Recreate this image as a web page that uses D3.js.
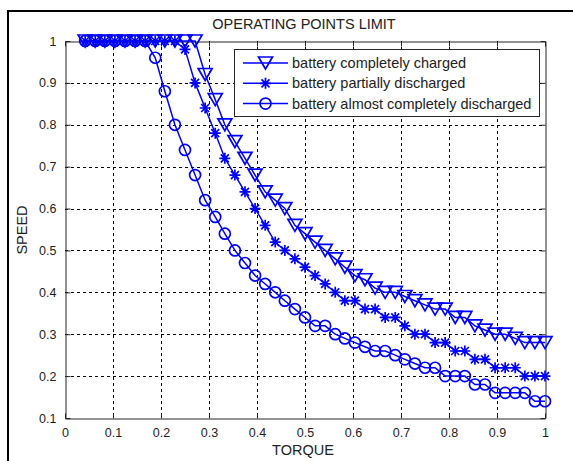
<!DOCTYPE html>
<html>
<head>
<meta charset="utf-8">
<script src="https://cdn.jsdelivr.net/npm/d3@7/dist/d3.min.js"></script>
<style>
  html, body { margin: 0; padding: 0; background: #fff; }
  svg { display: block; font-family: "Liberation Sans", Arial, sans-serif; }
</style>
</head>
<body>
<svg id="chart" width="573" height="461"></svg>
<script>
// Torque sample points (normalised)
const torque = [0.042, 0.063, 0.083, 0.104, 0.125, 0.146, 0.167, 0.188, 0.208, 0.229,
  0.25, 0.271, 0.292, 0.313, 0.333, 0.354, 0.375, 0.396, 0.417, 0.438,
  0.458, 0.479, 0.5, 0.521, 0.542, 0.563, 0.583, 0.604, 0.625, 0.646,
  0.667, 0.688, 0.708, 0.729, 0.75, 0.771, 0.792, 0.813, 0.833, 0.854,
  0.875, 0.896, 0.917, 0.938, 0.958, 0.979, 1.0];

// Speed limit for each battery state
const speedCharged = [1, 1, 1, 1, 1, 1, 1, 1, 1, 1,
  1, 1, 0.92, 0.86, 0.80, 0.76, 0.72, 0.68, 0.64, 0.62,
  0.60, 0.56, 0.54, 0.52, 0.50, 0.48, 0.46, 0.44, 0.43, 0.41,
  0.40, 0.40, 0.39, 0.38, 0.37, 0.36, 0.36, 0.34, 0.34, 0.32,
  0.31, 0.30, 0.30, 0.29, 0.28, 0.28, 0.28];
const speedPartial = [1, 1, 1, 1, 1, 1, 1, 1, 1, 1,
  0.98, 0.90, 0.84, 0.78, 0.72, 0.68, 0.64, 0.60, 0.56, 0.52,
  0.50, 0.48, 0.46, 0.44, 0.42, 0.40, 0.38, 0.38, 0.36, 0.36,
  0.34, 0.34, 0.32, 0.30, 0.30, 0.28, 0.28, 0.26, 0.26, 0.24,
  0.24, 0.22, 0.22, 0.22, 0.20, 0.20, 0.20];
const speedLow = [1, 1, 1, 1, 1, 1, 1, 0.96, 0.88, 0.80,
  0.74, 0.68, 0.62, 0.58, 0.54, 0.50, 0.47, 0.44, 0.42, 0.40,
  0.38, 0.36, 0.34, 0.32, 0.32, 0.30, 0.29, 0.28, 0.27, 0.26,
  0.26, 0.25, 0.24, 0.23, 0.22, 0.22, 0.20, 0.20, 0.20, 0.18,
  0.18, 0.16, 0.16, 0.16, 0.16, 0.14, 0.14];

const seriesNames = ["battery completely charged", "battery partially discharged",
  "battery almost completely discharged"];
const seriesMarkers = ["triangle", "star", "circle"];

const xTicks = [0, 0.1, 0.2, 0.3, 0.4, 0.5, 0.6, 0.7, 0.8, 0.9, 1];
const xTickLabels = ["0", "0.1", "0.2", "0.3", "0.4", "0.5", "0.6", "0.7", "0.8", "0.9", "1"];
const yTicks = [0.1, 0.2, 0.3, 0.4, 0.5, 0.6, 0.7, 0.8, 0.9, 1];
const yTickLabels = ["0.1", "0.2", "0.3", "0.4", "0.5", "0.6", "0.7", "0.8", "0.9", "1"];

const blue = "#0000ff";
const axisColor = "#262626";
const textColor = "#222";

const svg = d3.select("#chart");

// outer frame edges
svg.append("line").attr("x1", 8).attr("x2", 573).attr("y1", 11).attr("y2", 11)
  .attr("stroke", "#000").attr("stroke-width", 2);
svg.append("line").attr("x1", 8).attr("x2", 8).attr("y1", 10).attr("y2", 461)
  .attr("stroke", "#000").attr("stroke-width", 2);

const plotLeft = 65, plotRight = 545, plotTop = 41, plotBottom = 418;
const x = d3.scaleLinear().domain([0, 1]).range([plotLeft, plotRight]);
const y = d3.scaleLinear().domain([0.1, 1]).range([plotBottom, plotTop]);

// dotted grid
const grid = svg.append("g").attr("stroke", "#000").attr("stroke-width", 1)
  .attr("stroke-dasharray", "3,3");
grid.selectAll("line.gx").data(xTicks.slice(1, -1)).enter().append("line")
  .attr("x1", d => Math.round(x(d)) + 0.5).attr("x2", d => Math.round(x(d)) + 0.5)
  .attr("y1", plotTop).attr("y2", plotBottom);
grid.selectAll("line.gy").data(yTicks.slice(1, -1)).enter().append("line")
  .attr("y1", d => Math.round(y(d)) + 0.5).attr("y2", d => Math.round(y(d)) + 0.5)
  .attr("x1", plotLeft).attr("x2", plotRight);

// axes with inward ticks on all four sides
function styleAxis(g) {
  g.selectAll("path.domain").attr("stroke", axisColor);
  g.selectAll(".tick line").attr("stroke", axisColor);
  g.selectAll(".tick text").attr("fill", textColor).style("font-size", "12.5px")
    .style("font-family", "'Liberation Sans', Arial, sans-serif");
}
svg.append("g").attr("transform", `translate(0,${plotBottom + 0.5})`)
  .call(d3.axisBottom(x).tickValues(xTicks).tickSizeInner(-5).tickSizeOuter(0).tickPadding(10)
    .tickFormat((d, i) => xTickLabels[i]))
  .call(styleAxis);
svg.append("g").attr("transform", `translate(0,${plotTop + 0.5})`)
  .call(d3.axisTop(x).tickValues(xTicks).tickSizeInner(-5).tickSizeOuter(0).tickFormat(""))
  .call(styleAxis);
svg.append("g").attr("transform", `translate(${plotLeft + 0.5},0)`)
  .call(d3.axisLeft(y).tickValues(yTicks).tickSizeInner(-5).tickSizeOuter(0).tickPadding(9)
    .tickFormat((d, i) => yTickLabels[i]))
  .call(styleAxis);
svg.append("g").attr("transform", `translate(${plotRight + 0.5},0)`)
  .call(d3.axisRight(y).tickValues(yTicks).tickSizeInner(-5).tickSizeOuter(0).tickFormat(""))
  .call(styleAxis);

// marker drawing
function drawMarker(g, type, cx, cy) {
  if (type === "circle") {
    g.append("circle").attr("cx", cx).attr("cy", cy).attr("r", 5.5)
      .attr("fill", "none").attr("stroke", blue).attr("stroke-width", 1.7);
  } else if (type === "triangle") {
    const w = 7, h = 6;
    g.append("path")
      .attr("d", `M${cx - w},${cy - h}L${cx + w},${cy - h}L${cx},${cy + h}Z`)
      .attr("fill", "none").attr("stroke", blue).attr("stroke-width", 1.7)
      .attr("stroke-linejoin", "miter");
  } else {
    const r = 5.5, d = 4;
    g.append("path")
      .attr("d", `M${cx - r},${cy}L${cx + r},${cy}M${cx},${cy - r}L${cx},${cy + r}` +
        `M${cx - d},${cy - d}L${cx + d},${cy + d}M${cx - d},${cy + d}L${cx + d},${cy - d}`)
      .attr("stroke", blue).attr("stroke-width", 1.7);
  }
}

const series = [speedCharged, speedPartial, speedLow];
const line = d3.line().x(d => x(d[0])).y(d => y(d[1]));

series.forEach((vals, si) => {
  const pts = torque.map((t, i) => [t, vals[i]]);
  const g = svg.append("g");
  g.append("path").datum(pts).attr("d", line)
    .attr("fill", "none").attr("stroke", blue).attr("stroke-width", 1.5);
  pts.forEach(p => drawMarker(g, seriesMarkers[si], x(p[0]), y(p[1])));
});

// legend
const lg = svg.append("g");
lg.append("rect").attr("x", 234.5).attr("y", 49.5).attr("width", 305).attr("height", 67)
  .attr("fill", "#fff").attr("stroke", axisColor).attr("stroke-width", 1);
seriesNames.forEach((name, i) => {
  const ly = 63 + i * 20.3;
  lg.append("line").attr("x1", 243).attr("x2", 288).attr("y1", ly).attr("y2", ly)
    .attr("stroke", blue).attr("stroke-width", 1.5);
  drawMarker(lg, seriesMarkers[i], 265.5, ly);
  lg.append("text").attr("x", 292).attr("y", ly + 5).text(name)
    .attr("fill", textColor).style("font-size", "14.5px");
});

// title and axis labels
svg.append("text").attr("x", 304).attr("y", 29).attr("text-anchor", "middle")
  .attr("fill", textColor).style("font-size", "14.5px").text("OPERATING POINTS LIMIT");
svg.append("text").attr("x", 303).attr("y", 455).attr("text-anchor", "middle")
  .attr("fill", textColor).style("font-size", "14.5px").text("TORQUE");
svg.append("text").attr("transform", "translate(27,230) rotate(-90)").attr("text-anchor", "middle")
  .attr("fill", textColor).style("font-size", "14.5px").text("SPEED");
</script>
</body>
</html>
